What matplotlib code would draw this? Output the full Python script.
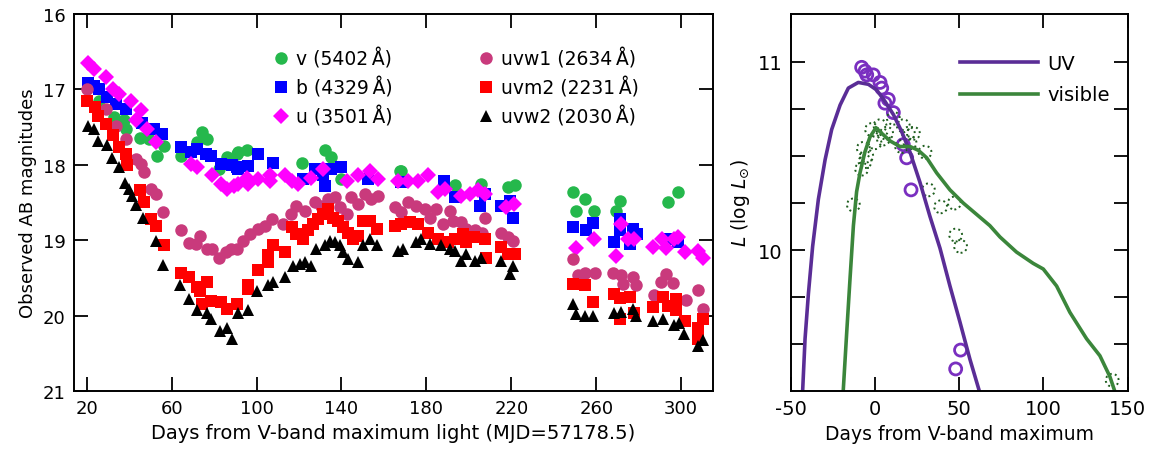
import numpy as np
from matplotlib import pyplot as plt

# ---- left panel: Swift UVOT light curves (days, AB mag) ----
v_day = [25.8, 32.8, 37.6, 38.4, 45.1, 49.3, 52.9, 56.4, 64.2, 72.0, 74.4, 76.8, 82.3, 85.9, 90.9,
         91.3, 95.3, 121.2, 132.1, 135.3, 140.0, 167.4, 168.2, 193.3, 205.5, 218.4, 221.6,
         249.0, 250.6, 254.5, 258.9, 269.4, 271.0, 293.7, 298.4]
v_mag = [17.15, 17.37, 17.41, 17.53, 17.64, 17.66, 17.89, 17.75, 17.89, 17.70, 17.57, 17.66, 18.06, 17.90, 17.86,
         17.83, 17.81, 17.97, 17.81, 17.90, 18.19, 18.08, 18.08, 18.27, 18.25, 18.29, 18.27,
         18.36, 18.61, 18.46, 18.61, 18.61, 18.48, 18.50, 18.36]

b_day = [20.6, 23.4, 25.8, 29.7, 33.6, 38.4, 46.2, 51.7, 55.6, 64.2, 68.9, 72.0, 76.0, 78.4, 83.1, 88.5, 90.9,
         91.3, 96.0, 100.8, 107.8, 121.9, 127.4, 131.3, 132.1, 135.3, 140.0, 152.5,
         168.2, 188.3, 193.3, 205.1, 207.4, 215.0, 219.2, 220.8,
         249.0, 255.3, 258.4, 268.6, 271.0, 271.0, 275.7, 277.2, 279.3, 294.5, 298.4]
b_mag = [16.91, 16.95, 16.99, 17.10, 17.19, 17.26, 17.44, 17.53, 17.59, 17.77, 17.83, 17.79, 17.86, 17.88, 17.99, 18.00, 18.03,
         18.06, 18.01, 17.86, 17.97, 18.19, 18.06, 18.14, 18.28, 18.06, 18.03, 18.19,
         18.23, 18.21, 18.43, 18.54, 18.39, 18.54, 18.48, 18.71,
         18.83, 18.87, 18.77, 19.03, 18.72, 18.87, 19.05, 18.85, 18.92, 18.99, 19.02]

u_day = [20.6, 23.4, 28.9, 32.5, 35.2, 40.7, 43.1, 45.4, 48.5, 52.5, 68.9, 72.0, 79.1, 83.1, 85.9, 89.3,
         91.3, 95.3, 96.0, 100.8, 106.3, 106.3, 113.3, 116.5, 119.6, 125.6, 131.3, 142.4, 147.8, 153.3, 157.2,
         166.6, 171.3, 176.0, 180.8, 185.5, 188.6, 196.5, 200.4, 204.3, 207.4, 217.6, 221.2,
         250.6, 258.9, 269.4, 271.5, 274.9, 277.7, 286.6, 290.9, 292.9, 296.8, 298.4, 301.6, 307.8, 310.2]
u_mag = [16.65, 16.73, 16.83, 17.00, 17.06, 17.16, 17.40, 17.27, 17.52, 17.70, 17.99, 18.03, 18.14, 18.25, 18.32, 18.28,
         18.25, 18.17, 18.25, 18.19, 18.21, 18.14, 18.14, 18.21, 18.25, 18.17, 18.06, 18.21, 18.14, 18.08, 18.19,
         18.21, 18.22, 18.21, 18.14, 18.36, 18.32, 18.41, 18.39, 18.34, 18.39, 18.56, 18.52,
         19.11, 18.98, 19.21, 18.78, 18.99, 18.98, 19.09, 18.98, 19.11, 18.98, 18.96, 19.16, 19.14, 19.24]

uvw1_day = [20.0, 28.9, 33.6, 38.4, 43.1, 45.4, 47.0, 50.1, 52.5, 56.0, 64.2, 68.1, 71.3, 73.6, 76.8, 79.1, 82.3, 85.4, 87.8, 90.9,
            93.7, 96.8, 100.8, 103.9, 107.1, 112.5, 116.1, 118.8, 122.7, 127.4, 130.6, 133.7, 136.8, 139.2, 142.4, 144.7,
            147.8, 151.0, 154.1, 157.2, 165.1, 168.2, 171.3, 175.3, 179.2, 181.6, 184.7, 187.8, 191.0, 192.5, 196.5,
            198.8, 202.7, 206.2, 207.4, 215.3, 218.4, 220.8,
            249.0, 251.4, 254.5, 259.2, 267.8, 271.8, 272.5, 277.2, 278.8, 287.4, 290.5, 292.9, 296.0, 302.2, 307.8, 310.2]
uvw1_mag = [16.99, 17.26, 17.48, 17.66, 17.92, 17.99, 18.10, 18.32, 18.39, 18.62, 18.86, 19.04, 19.05, 18.94, 19.12, 19.12, 19.23, 19.16, 19.12, 19.12,
            19.01, 18.92, 18.85, 18.81, 18.72, 18.79, 18.65, 18.54, 18.61, 18.50, 18.54, 18.45, 18.43, 18.56, 18.65, 18.43,
            18.52, 18.39, 18.45, 18.41, 18.56, 18.63, 18.50, 18.54, 18.59, 18.70, 18.59, 18.79, 18.61, 18.74, 18.76,
            18.85, 18.87, 18.90, 18.70, 18.90, 18.96, 19.01,
            19.25, 19.46, 19.44, 19.44, 19.44, 19.46, 19.58, 19.49, 19.60, 19.73, 19.56, 19.45, 19.57, 19.79, 19.66, 19.91]

uvm2_day = [20.3, 23.8, 25.3, 28.9, 32.5, 35.2, 38.4, 38.8, 45.1, 47.0, 50.4, 52.5, 56.4, 64.5, 68.1, 72.0, 73.6, 76.8,
            74.4, 78.4, 83.1, 85.9, 90.9, 96.0, 96.0, 100.5, 105.5, 105.5, 107.8, 113.6, 116.5, 118.8, 121.9, 124.3,
            126.6, 129.0, 131.3, 133.7, 136.0, 138.4, 140.8, 143.1, 145.5, 147.8, 150.2, 153.3, 156.9, 165.1,
            168.2, 172.1, 176.0, 180.8, 185.5, 190.2, 193.3, 197.3, 198.8, 202.4, 207.8, 208.2, 215.3, 218.4, 221.6,
            249.0, 254.8, 258.4, 268.6, 271.0, 271.0, 275.7, 277.7, 286.6, 291.3, 293.7, 297.6, 297.6, 301.6, 307.8, 310.2, 307.8]
uvm2_mag = [17.15, 17.24, 17.35, 17.46, 17.61, 17.77, 17.86, 18.00, 18.34, 18.50, 18.72, 18.81, 19.06, 19.43, 19.49, 19.62, 19.67, 19.56,
            19.85, 19.80, 19.82, 19.91, 19.85, 19.60, 19.65, 19.40, 19.29, 19.20, 19.07, 19.16, 18.83, 18.92, 18.98, 18.87,
            18.79, 18.72, 18.65, 18.59, 18.70, 18.74, 18.83, 18.90, 18.98, 18.94, 18.74, 18.74, 18.85, 18.81,
            18.79, 18.76, 18.79, 18.90, 18.98, 19.03, 18.98, 18.92, 19.03, 18.96, 18.98, 19.23, 19.09, 19.18, 19.18,
            19.58, 19.59, 19.82, 19.71, 19.77, 20.05, 19.76, 19.96, 19.88, 19.76, 19.87, 19.78, 19.92, 20.07, 20.17, 20.05, 20.31]

uvw2_day = [20.6, 23.4, 25.3, 29.4, 32.1, 35.2, 37.9, 39.9, 41.5, 43.1, 46.6, 52.5, 56.0, 63.9, 68.1, 71.8, 76.8, 78.6,
            82.7, 85.9, 88.5, 91.3, 96.0, 100.0, 105.5, 107.8, 113.6, 117.2, 120.4, 122.7, 125.6, 128.2, 132.1, 134.5,
            136.8, 139.2, 140.8, 143.1, 147.8, 150.2, 153.3, 156.9,
            166.6, 169.0, 175.3, 177.6, 181.6, 187.1, 191.0, 193.3, 196.5, 198.8, 202.7, 205.5, 215.0, 219.2, 220.8,
            249.0, 250.6, 254.5, 258.4, 268.6, 271.8, 277.2, 278.8, 286.6, 291.3, 296.8, 299.2, 301.2, 307.8, 310.2]
uvw2_mag = [17.49, 17.53, 17.69, 17.74, 17.91, 18.03, 18.24, 18.32, 18.41, 18.53, 18.70, 19.01, 19.33, 19.59, 19.78, 19.92, 19.97, 20.05,
            20.21, 20.17, 20.31, 19.96, 19.93, 19.67, 19.60, 19.55, 19.49, 19.34, 19.32, 19.29, 19.34, 19.12, 19.07, 19.01,
            19.03, 19.07, 19.16, 19.25, 19.29, 19.07, 18.98, 19.07,
            19.14, 19.12, 19.03, 18.98, 19.05, 19.07, 19.12, 19.14, 19.27, 19.18, 19.28, 19.23, 19.28, 19.45, 19.34,
            19.85, 19.98, 20.00, 20.00, 19.96, 19.95, 19.91, 20.00, 20.07, 20.05, 20.13, 20.10, 20.24, 20.40, 20.33]

# ---- right panel: model luminosity curves and data (days, log L/Lsun) ----
uv_model_day = [-43.3, -42.9, -41.5, -39.5, -37.0, -33.6, -29.6, -25.7, -20.7, -15.8, -9.9, -3.9, 1.0, 5.9, 10.9,
                15.8, 20.8, 26.7, 32.6, 38.6, 44.5, 50.4, 56.4, 61.7, 62.2]
uv_model_lum = [9.20, 9.26, 9.53, 9.77, 10.02, 10.27, 10.48, 10.64, 10.77, 10.86, 10.89, 10.88, 10.85, 10.79, 10.72,
                10.63, 10.52, 10.36, 10.18, 10.01, 9.81, 9.62, 9.42, 9.26, 9.24]
vis_model_day = [-19.0, -18.8, -16.8, -14.8, -12.8, -10.9, -8.9, -6.0, -3.0, 0.6, 4.0, 8.9, 14.8, 20.8, 25.7, 30.7,
                 36.6, 44.5, 52.4, 60.3, 68.2, 74.2, 84.0, 93.9, 99.9, 107.8, 115.7, 125.6, 133.5, 139.4, 142.4, 142.8]
vis_model_lum = [9.22, 9.26, 9.56, 9.85, 10.13, 10.31, 10.41, 10.52, 10.60, 10.65, 10.62, 10.58, 10.55, 10.55, 10.53, 10.49,
                 10.41, 10.32, 10.25, 10.19, 10.13, 10.07, 9.99, 9.93, 9.90, 9.81, 9.67, 9.53, 9.44, 9.33, 9.25, 9.23]
uv_obs_day = [-7.9, -5.9, -4.9, -1.0, 3.0, 4.0, 7.9, 5.9, 10.9, 16.8, 18.8, 21.4, 50.8, 47.9]
uv_obs_lum = [10.97, 10.95, 10.93, 10.93, 10.89, 10.86, 10.80, 10.78, 10.73, 10.56, 10.49, 10.32, 9.47, 9.37]
vis_obs_day = [-12.8, -7.9, -5.9, -4.9, -6.9, -2.0, 0.0, 3.0, 5.0, 6.9, 10.9, 16.8, 19.8, 22.8, 20.8, 15.8,
               29.7, 31.7, 39.0, 47.1, 47.9, 50.8, 140.8]
vis_obs_lum = [10.24, 10.43, 10.47, 10.50, 10.54, 10.64, 10.57, 10.66, 10.59, 10.62, 10.70, 10.66, 10.62, 10.62, 10.57, 10.55,
               10.52, 10.32, 10.23, 10.25, 10.08, 10.02, 9.31]

plt.rcParams['font.family'] = 'DejaVu Sans'
plt.rcParams['font.size'] = 13
plt.rcParams['axes.unicode_minus'] = False

fig = plt.figure(figsize=(11.52, 4.56), dpi=100)
ax = fig.add_axes([0.0642, 0.1404, 0.5547, 0.8267])
ax2 = fig.add_axes([0.6864, 0.1404, 0.2925, 0.8267])

# left panel
series = [
    (v_day, v_mag, 'o', '#25b84c', 'v (5402\u2009Å)', 9),
    (b_day, b_mag, 's', '#0000ff', 'b (4329\u2009Å)', 8),
    (u_day, u_mag, 'D', '#ff00ff', 'u (3501\u2009Å)', 8),
    (uvw1_day, uvw1_mag, 'o', '#c93a7c', 'uvw1 (2634\u2009Å)', 9),
    (uvm2_day, uvm2_mag, 's', '#ff0000', 'uvm2 (2231\u2009Å)', 8),
    (uvw2_day, uvw2_mag, '^', '#000000', 'uvw2 (2030\u2009Å)', 9),
]
for d, m, mk, c, lab, ms in series:
    ax.plot(d, m, linestyle='none', marker=mk, color=c, markersize=ms,
            markeredgewidth=0, label=lab)

ax.set_xlim(14, 315)
ax.set_ylim(21, 16)
ax.set_xticks(np.arange(20, 301, 40))
ax.set_yticks([16, 17, 18, 19, 20, 21])
ax.set_xlabel('Days from V-band maximum light (MJD=57178.5)', fontsize=14)
ax.set_ylabel('Observed AB magnitudes')
ax.legend(ncol=2, frameon=False, loc='upper left', bbox_to_anchor=(0.30, 0.93),
          handlelength=0.8, handletextpad=0.4, columnspacing=4.6, labelspacing=0.42,
          borderaxespad=0, fontsize=13.5)

# right panel
uv_col = '#5a2d96'
vis_col = '#3b863b'
ax2.plot(uv_model_day, uv_model_lum, color=uv_col, lw=2.6, label='UV')
ax2.plot(vis_model_day, vis_model_lum, color=vis_col, lw=2.6, label='visible')
ax2.scatter(uv_obs_day, uv_obs_lum, s=75, facecolors='none', edgecolors='#7a2fc0', linewidths=2.0)
ax2.scatter(vis_obs_day, vis_obs_lum, s=85, facecolors='none', edgecolors='#1e5e1e',
            linewidths=1.4, linestyles=':')
ax2.set_xlim(-50, 150)
ax2.set_ylim(9.253, 11.253)
ax2.set_xticks([-50, 0, 50, 100, 150])
ax2.set_yticks([9.5, 9.75, 10, 10.25, 10.5, 10.75, 11])
ax2.set_yticklabels(['', '', '10', '', '', '', '11'])
ax2.set_xlabel('Days from V-band maximum', fontsize=13.5)
ax2.set_ylabel(r'$L$ (log $L_{\odot}$)', fontsize=13.5)
ax2.legend(frameon=False, loc='upper right', bbox_to_anchor=(0.97, 0.915),
           handlelength=4.0, handletextpad=0.5, labelspacing=0.65, borderaxespad=0, fontsize=14)

for a in (ax, ax2):
    a.tick_params(direction='in', top=True, right=True, length=10, width=1.3, pad=6)
    for s in a.spines.values():
        s.set_linewidth(1.4)
ax2.tick_params(labelsize=14)

fig.savefig('out.png', dpi=100)
